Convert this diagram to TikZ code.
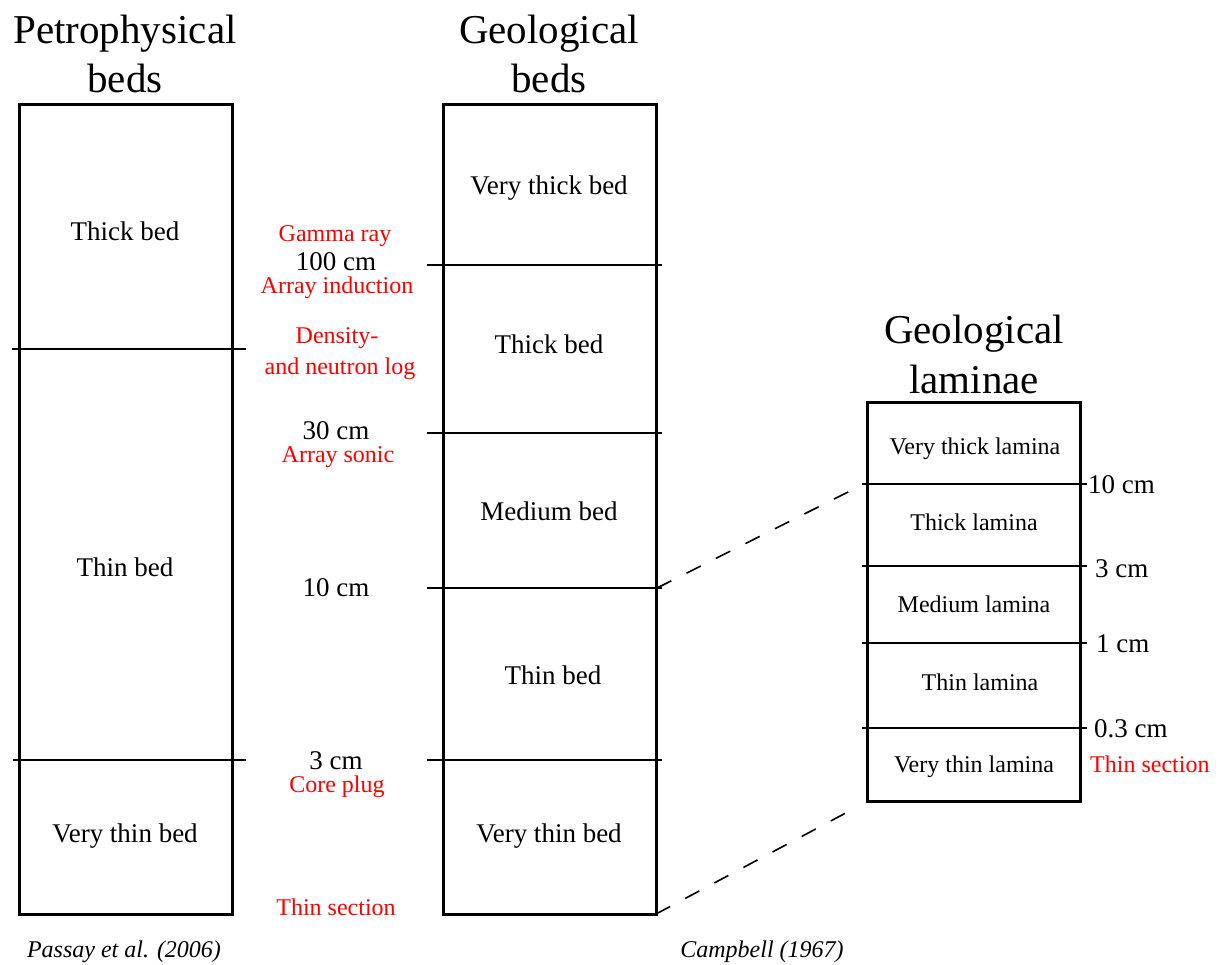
\documentclass[tikz,border=0pt]{standalone}
\usepackage{fontspec}
\setmainfont{Liberation Serif}
\begin{document}
\begin{tikzpicture}[x=1pt,y=-1pt,
    title/.style={font=\fontsize{41}{49}\selectfont, anchor=base, inner sep=0pt},
    lbl/.style={font=\fontsize{27}{30}\selectfont, text height=18pt, text depth=0pt, inner sep=0pt},
    tool/.style={font=\fontsize{24}{28}\selectfont, text=red, text height=16pt, text depth=0pt, inner sep=0pt},
    lam/.style={font=\fontsize{24}{28}\selectfont, text height=16pt, text depth=0pt, inner sep=0pt},
    cite/.style={font=\fontsize{24}{28}\selectfont\itshape, inner sep=0pt},
    column/.style={line width=3pt},
    divider/.style={line width=1.4pt},
    link/.style={line width=1.6pt, dash pattern=on 16pt off 17pt}]
    \useasboundingbox[fill=white] (0,0) rectangle (1218,965);

    % petrophysical beds
    \node[title] (pt1) at (125,44) {Petrophysical};
    \node[title] (pt2) at (125,93) {beds};
    \draw[column] (19,105) rectangle (232,914);
    \draw[divider] (12,349) -- (246,349);
    \draw[divider] (13,760) -- (246,760);
    \node[lbl] (p1) at (125,232) {Thick bed};
    \node[lbl] (p2) at (125,567) {Thin bed};
    \node[lbl] (p3) at (125,833) {Very thin bed};
    \node[cite] (pc) at (124,952) {Passay et al. (2006)};

    % scale and tools
    \node[tool] (s1) at (335,234) {Gamma ray};
    \node[lbl] (s2) at (336,262) {100 cm};
    \node[tool] (s3) at (337,286) {Array induction};
    \node[tool] (s4) at (337,336) {Density-};
    \node[tool] (s5) at (340,366) {and neutron log};
    \node[lbl] (s6) at (336,430) {30 cm};
    \node[tool] (s7) at (338,454) {Array sonic};
    \node[lbl] (s8) at (336,587) {10 cm};
    \node[lbl] (s9) at (336,760) {3 cm};
    \node[tool] (s10) at (337,784) {Core plug};
    \node[tool] (s11) at (336,907) {Thin section};

    % geological beds
    \node[title] (gt1) at (549,44) {Geological};
    \node[title] (gt2) at (549,93) {beds};
    \draw[column] (443,105) rectangle (656,914);
    \foreach \y in {265,433,588,760}
        \draw[divider] (427,\y) -- (662,\y);
    \node[lbl] (g1) at (549,186) {Very thick bed};
    \node[lbl] (g2) at (549,345) {Thick bed};
    \node[lbl] (g3) at (549,511) {Medium bed};
    \node[lbl] (g4) at (553,675) {Thin bed};
    \node[lbl] (g5) at (549,833) {Very thin bed};
    \node[cite] (gc) at (762,952) {Campbell (1967)};

    % geological laminae
    \node[title] (lt1) at (974,344) {Geological};
    \node[title] (lt2) at (974,394) {laminae};
    \draw[column] (867,402) rectangle (1080,801);
    \foreach \y in {484,566,643,728}
        \draw[divider] (862,\y) -- (1087,\y);
    \node[lam] (l1) at (975,446) {Very thick lamina};
    \node[lam] (l2) at (974,522) {Thick lamina};
    \node[lam] (l3) at (974,604) {Medium lamina};
    \node[lam] (l4) at (980,682) {Thin lamina};
    \node[lam] (l5) at (974,764) {Very thin lamina};
    \node[lbl, anchor=west] (r1) at (1088,484) {10 cm};
    \node[lbl, anchor=west] (r2) at (1095,568) {3 cm};
    \node[lbl, anchor=west] (r3) at (1096,643) {1 cm};
    \node[lbl, anchor=west] (r4) at (1094,728) {0.3 cm};
    \node[tool, anchor=west] (r5) at (1090,764) {Thin section};

    % zoom links
    \coordinate (m10) at (657,588);
    \coordinate (mbot) at (656,914);
    \coordinate (ltop) at (860,486);
    \coordinate (lbot) at (857,807);
    \draw[link] (m10) -- (ltop);
    \draw[link] (mbot) -- (lbot);
\end{tikzpicture}
\end{document}
